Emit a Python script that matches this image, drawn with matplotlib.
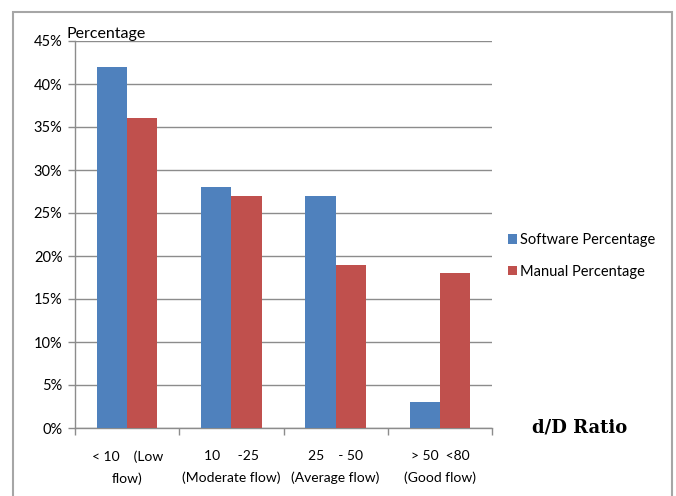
import matplotlib
matplotlib.use("Agg")
import matplotlib.pyplot as plt
from matplotlib.patches import Rectangle
import numpy as np

categories = ["< 10    (Low\nflow)", "10     -25\n(Moderate flow)",
              "25    - 50\n(Average flow)", "> 50  <80\n(Good flow)"]
software = [42, 28, 27, 3]
manual = [36, 27, 19, 18]
yticks = [0, 5, 10, 15, 20, 25, 30, 35, 40, 45]

plt.rcParams['font.family'] = ['Lato', 'DejaVu Sans']

fig = plt.figure(figsize=(6.76, 4.96), dpi=100)
# outer chart frame
fig.patches.append(Rectangle((12.5 / 676, -0.05), (672 - 12.5) / 676, 1.05 - 12.5 / 496,
                             transform=fig.transFigure, fill=False,
                             edgecolor="#a6a6a6", linewidth=1.5))

ax = fig.add_axes([75 / 676, 1 - 428 / 496, (492 - 75) / 676, (428 - 41) / 496])

x = np.arange(len(categories))
w = 0.29
ax.bar(x - w / 2, software, w, color="#4F81BD", label="Software Percentage", zorder=3)
ax.bar(x + w / 2, manual, w, color="#C0504D", label="Manual Percentage", zorder=3)

ax.set_xlim(-0.5, len(categories) - 0.5)
ax.set_ylim(0, 45)
ax.set_yticks(yticks)
ax.set_yticklabels([f"{v}%" for v in yticks], fontsize=10.5)
ax.yaxis.grid(True, color="#8c8c8c", linewidth=1, zorder=0)

ax.set_xticks(x)
ax.set_xticklabels(categories, fontsize=10, linespacing=1.9)
ax.set_xticks(np.arange(len(categories) + 1) - 0.5, minor=True)
ax.tick_params(axis="x", which="major", length=0, pad=16)
ax.tick_params(axis="x", which="minor", length=5, color="#8c8c8c", width=1)
ax.tick_params(axis="y", length=5, color="#8c8c8c", width=1, pad=4)

for s in ["top", "right"]:
    ax.spines[s].set_visible(False)
for s in ["left", "bottom"]:
    ax.spines[s].set_color("#8c8c8c")
    ax.spines[s].set_linewidth(1)

fig.text(67 / 676, 1 - 41 / 496, "Percentage", fontsize=11.5, ha="left", va="bottom")

ax.legend(loc="center left", bbox_to_anchor=((508 - 75) / 417, (428 - 256) / 387),
          frameon=False, borderpad=0, borderaxespad=0,
          fontsize=10.5, handlelength=0.6, handleheight=0.6, handletextpad=0.25,
          labelspacing=1.2)

fig.text(580 / 676, 1 - 428 / 496, "d/D Ratio", fontsize=13, fontweight="bold",
         family="DejaVu Serif", ha="center", va="center")

fig.savefig("out.png", dpi=100)
